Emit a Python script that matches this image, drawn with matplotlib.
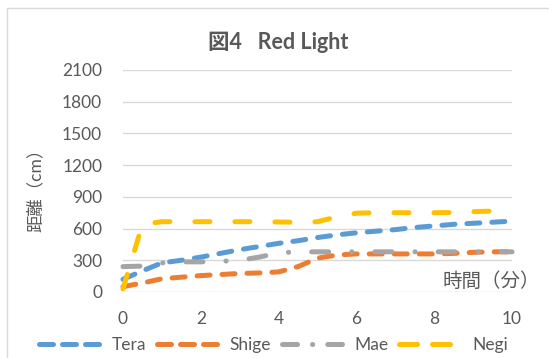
import matplotlib
matplotlib.use("Agg")
import matplotlib.pyplot as plt
from matplotlib.lines import Line2D

# 経過時間 (分) と各人の距離 (cm)
TIME_MIN = [0, 0.5, 1, 1.5, 2, 2.5, 3, 3.5, 4, 4.5, 5,
            5.5, 6, 6.5, 7, 7.5, 8, 8.5, 9, 9.5, 10]
TERA = [120, 200, 275, 300, 330, 365, 400, 430, 460, 485, 515,
        540, 560, 575, 590, 610, 625, 640, 650, 660, 670]
SHIGE = [50, 85, 125, 140, 155, 165, 175, 180, 190, 240, 320,
         350, 360, 360, 360, 360, 360, 365, 375, 380, 380]
MAE = [240, 245, 275, 285, 285, 290, 300, 330, 370, 380, 380,
       380, 380, 380, 380, 380, 380, 380, 380, 380, 380]
NEGI = [30, 640, 665, 665, 665, 665, 665, 665, 662, 660, 665,
        710, 745, 750, 750, 750, 750, 752, 760, 765, 770]

SERIES_NAMES = ["Tera", "Shige", "Mae", "Negi"]
Y_TICKS = [0, 300, 600, 900, 1200, 1500, 1800, 2100]
X_TICKS = [0, 2, 4, 6, 8, 10]

COLORS = ["#5B9BD5", "#ED7D31", "#A5A5A5", "#FFC000"]
LINE_DASHES = [(2.6, 2.4), (2.6, 2.4), (3.4, 4.6, 0.05, 4.6), (3.0, 5.0)]
LEGEND_DASHES = [(2.8, 1.8), (2.8, 1.8), (3.0, 3.0, 0.05, 3.0), (3.6, 3.0)]
TEXT_GRAY = "#595959"
GRID_GRAY = "#D9D9D9"

plt.rcParams["font.family"] = ["Lato", "Noto Sans CJK JP", "DejaVu Sans"]

fig = plt.figure(figsize=(5.49, 3.58), dpi=100)
ax = fig.add_axes([0.224, 0.1844, 0.7086, 0.6201])

lw = 3.6
for name, values, color, dash in zip(SERIES_NAMES, [TERA, SHIGE, MAE, NEGI],
                                     COLORS, LINE_DASHES):
    line, = ax.plot(TIME_MIN, values, color=color, linewidth=lw,
                    solid_capstyle="round", dash_capstyle="round", label=name,
                    clip_on=False)
    line.set_dashes(dash)

ax.set_xlim(0, 10)
ax.set_ylim(0, 2100)
ax.set_xticks(X_TICKS)
ax.set_yticks(Y_TICKS)
ax.tick_params(length=0, labelsize=12.5, labelcolor=TEXT_GRAY)
ax.tick_params(axis="y", pad=15)
ax.tick_params(axis="x", pad=14)
ax.grid(axis="y", color=GRID_GRAY, linewidth=1.0)
ax.set_axisbelow(True)
for spine in ax.spines.values():
    spine.set_visible(False)

fig.text(0.507, 0.883, "図4   Red Light", ha="center", va="center",
         fontsize=15.5, fontweight="bold", color=TEXT_GRAY)
fig.text(0.064, 0.48, "距離（cm）", ha="center", va="center", rotation=90,
         fontsize=12.5, color=TEXT_GRAY)
fig.text(0.984, 0.215, "時間（分）", ha="right", va="center",
         fontsize=14, color=TEXT_GRAY)

handles = []
for name, color, dash in zip(SERIES_NAMES, COLORS, LEGEND_DASHES):
    h = Line2D([], [], color=color, linewidth=lw, dash_capstyle="round",
               label=name)
    h.set_dashes(dash)
    handles.append(h)
fig.legend(handles=handles, loc="center", bbox_to_anchor=(0.498, 0.036),
           ncol=4, frameon=False, fontsize=12.5, labelcolor=TEXT_GRAY,
           handlelength=3.5, handletextpad=0.7, columnspacing=0.6)

# chart frame
frame = plt.Rectangle((7 / 549, -0.1), 1.2, (358 - 8) / 358 + 0.1,
                      transform=fig.transFigure, fill=False,
                      edgecolor="#D9D9D9", linewidth=1.0)
fig.patches.append(frame)

fig.savefig("out.png", dpi=100)
